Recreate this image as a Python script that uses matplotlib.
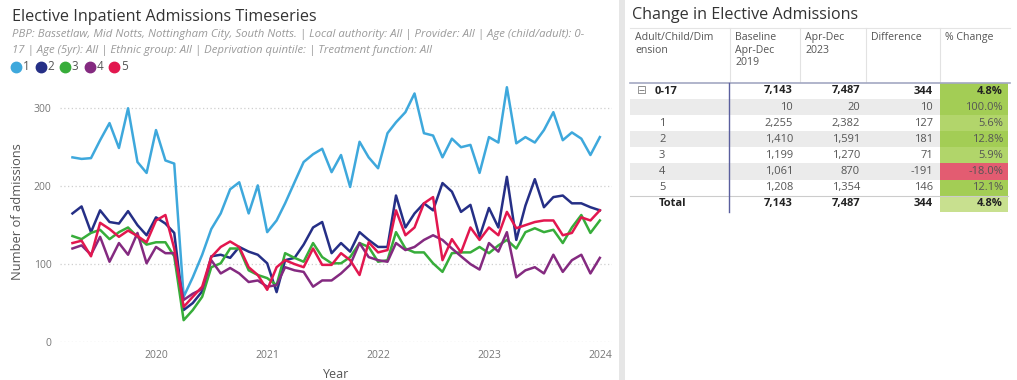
import matplotlib.pyplot as plt
import pandas as pd
from matplotlib.patches import Rectangle
from matplotlib.colors import to_rgb

plt.rcParams['font.family'] = ['Open Sans', 'DejaVu Sans']

W, H = 1017, 380

# monthly elective inpatient admissions, Apr 2019 - Jan 2024
months = pd.date_range("2019-04-01", "2024-01-01", freq="MS")

quintile_1 = [237, 235, 236, 259, 281, 249, 300, 231, 217, 272, 233, 229,
              58, 83, 112, 145, 165, 196, 205, 165, 201, 141, 156, 178,
              205, 231, 241, 248, 218, 240, 199, 257, 237, 223, 268, 282,
              295, 319, 268, 265, 237, 261, 250, 253, 217, 263, 256, 327,
              255, 263, 256, 272, 295, 259, 269, 261, 240, 263]
quintile_2 = [165, 174, 141, 169, 154, 152, 168, 150, 137, 160, 152, 140,
              41, 50, 65, 110, 112, 108, 122, 116, 112, 101, 64, 105,
              108, 125, 147, 154, 114, 127, 116, 141, 131, 122, 122, 188,
              147, 165, 178, 169, 204, 193, 167, 176, 135, 172, 147, 212,
              131, 175, 209, 173, 186, 188, 178, 178, 173, 169]
quintile_3 = [136, 132, 140, 144, 132, 141, 147, 135, 125, 128, 128, 110,
              28, 41, 58, 96, 101, 120, 120, 92, 86, 82, 73, 114,
              108, 103, 127, 109, 101, 101, 109, 127, 122, 103, 105, 141,
              120, 115, 115, 101, 90, 114, 115, 115, 122, 114, 124, 131,
              120, 141, 146, 141, 144, 127, 147, 163, 140, 156]
quintile_4 = [120, 124, 112, 135, 103, 127, 112, 140, 101, 122, 114, 114,
              54, 62, 68, 105, 88, 95, 88, 77, 79, 71, 73, 96,
              92, 90, 71, 79, 79, 88, 99, 127, 109, 105, 103, 127,
              118, 122, 131, 137, 131, 120, 110, 100, 93, 127, 116, 141,
              83, 92, 96, 88, 112, 90, 105, 112, 88, 108]
quintile_5 = [127, 130, 110, 153, 145, 135, 143, 136, 128, 156, 163, 120,
              45, 58, 71, 109, 122, 129, 122, 96, 86, 67, 96, 105,
              100, 96, 120, 99, 99, 114, 105, 86, 128, 115, 118, 169,
              137, 147, 178, 186, 105, 132, 115, 147, 131, 147, 137, 167,
              146, 150, 154, 156, 156, 137, 140, 160, 156, 169]

series_names = ["1", "2", "3", "4", "5"]
series_values = [quintile_1, quintile_2, quintile_3, quintile_4, quintile_5]
series_colours = ["#3ea8dc", "#252f86", "#37ad3a", "#842a80", "#e2174f"]

# change table
row_labels = ["0-17", "", "1", "2", "3", "4", "5", "Total"]
baseline_2019 = [7143, 10, 2255, 1410, 1199, 1061, 1208, 7143]
apr_dec_2023 = [7487, 20, 2382, 1591, 1270, 870, 1354, 7487]
difference = [344, 10, 127, 181, 71, -191, 146, 344]
pct_change = [4.8, 100.0, 5.6, 12.8, 5.9, -18.0, 12.1, 4.8]

fig = plt.figure(figsize=(W / 100, H / 100), dpi=100)

# full-figure layer in pixel units for titles, legend and the table
bg = fig.add_axes([0, 0, 1, 1])
bg.set_xlim(0, W)
bg.set_ylim(H, 0)
bg.axis("off")

# ---- timeseries ----
ax = fig.add_axes([60 / W, 38 / H, 552 / W, 261 / H])
for name, vals, col in zip(series_names, series_values, series_colours):
    ax.plot(months, vals, color=col, lw=1.8, label=name)

ax.set_xlim(pd.Timestamp("2019-02-19"), pd.Timestamp("2024-02-10"))
ax.set_ylim(0, 335)
ax.set_yticks([0, 100, 200, 300])
ax.set_xticks([pd.Timestamp(f"{y}-01-01") for y in range(2020, 2025)])
ax.set_xticklabels([str(y) for y in range(2020, 2025)])
ax.grid(axis="y", color="#cfcfcf", linestyle=(0, (1, 2)), lw=0.9)
ax.set_axisbelow(True)
for s in ax.spines.values():
    s.set_visible(False)
ax.tick_params(length=0, labelsize=7.5, labelcolor="#777777", pad=6)
ax.set_xlabel("Year", fontsize=9, color="#555555", labelpad=5)
ax.set_ylabel("Number of admissions", fontsize=9.3, color="#555555", labelpad=7)
ax.patch.set_alpha(0)

bg.text(12, 17, "Elective Inpatient Admissions Timeseries", fontsize=11.6,
        color="#333333", va="center", ha="left")
bg.text(12, 35, "PBP: Bassetlaw, Mid Notts, Nottingham City, South Notts. | Local authority: All | "
        "Provider: All | Age (child/adult): 0-", fontsize=8.2, style="italic",
        color="#9a9a9a", va="center", ha="left")
bg.text(12, 51, "17 | Age (5yr): All | Ethnic group: All | Deprivation quintile: | "
        "Treatment function: All", fontsize=8.2, style="italic",
        color="#9a9a9a", va="center", ha="left")
for i, (name, col) in enumerate(zip(series_names, series_colours)):
    cx = 16 + i * 24.5
    bg.plot(cx, 67, "o", ms=7.5, color=col)
    bg.text(cx + 7, 67, name, fontsize=8.5, color="#555555", va="center", ha="left")

# panel divider
bg.add_patch(Rectangle((619, 0), 6, H, color="#e6e6e6", lw=0))

# ---- change table ----
bg.text(632, 15, "Change in Elective Admissions", fontsize=11.6,
        color="#333333", va="center", ha="left")

col_edges = [630, 730, 800, 866, 940, 1010]
headers = ["Adult/Child/Dim\nension", "Baseline\nApr-Dec\n2019", "Apr-Dec\n2023",
           "Difference", "% Change"]
bg.plot([630, 1010], [28, 28], color="#e4e4e4", lw=0.8)
for x in col_edges[1:-1]:
    bg.plot([x, x], [28, 82], color="#e2e2e2", lw=0.8)
for x0, h in zip(col_edges[:-1], headers):
    bg.text(x0 + 5, 32, h, fontsize=7.6, color="#555555", va="top", ha="left",
            linespacing=1.2)
bg.plot([630, 1010], [83, 83], color="#a3a8c2", lw=1.2)


def pct_colour(p, label):
    if p < 0:
        return "#e35c71"
    if label == "Total":
        return "#c8e08f"
    light, dark = to_rgb("#bfdc7e"), to_rgb("#a3cd55")
    t = 1.0 if label == "0-17" else min(p / 12.0, 1.0)
    return tuple(a + (b - a) * t for a, b in zip(light, dark))


row_h = 16.1
for i, lab in enumerate(row_labels):
    yc = 91 + i * row_h
    top = yc - row_h / 2
    if i in (1, 3, 5):
        bg.add_patch(Rectangle((630, top), 310, row_h, color="#ebebeb", lw=0))
    bg.add_patch(Rectangle((940, top), 68, row_h,
                           color=pct_colour(pct_change[i], lab), lw=0))
    bold = lab in ("0-17", "Total")
    weight = "bold" if bold else "normal"
    tcol = "#222222" if bold else "#555555"
    fs = 8
    if lab == "0-17":
        bg.text(637, yc, "\u229f", fontsize=8.5, color="#888888", va="center",
                ha="left", family=["DejaVu Sans"])
        bg.text(655, yc, lab, fontsize=fs, weight=weight, color=tcol,
                va="center", ha="left")
    else:
        bg.text(659, yc, lab, fontsize=fs, weight=weight, color=tcol,
                va="center", ha="left")
    bg.text(793, yc, f"{baseline_2019[i]:,}", fontsize=fs, weight=weight,
            color=tcol, va="center", ha="right")
    bg.text(860, yc, f"{apr_dec_2023[i]:,}", fontsize=fs, weight=weight,
            color=tcol, va="center", ha="right")
    bg.text(933, yc, f"{difference[i]:,}", fontsize=fs, weight=weight,
            color=tcol, va="center", ha="right")
    bg.text(1003, yc, f"{pct_change[i]:.1f}%", fontsize=fs, weight=weight,
            color=tcol, va="center", ha="right")

total_top = 91 + 7 * row_h - row_h / 2
bg.plot([630, 1008], [total_top, total_top], color="#cccccc", lw=0.8)
bg.plot([729, 729], [83, 212], color="#5a5f9e", lw=1.0)

fig.savefig("out.png", dpi=100)
